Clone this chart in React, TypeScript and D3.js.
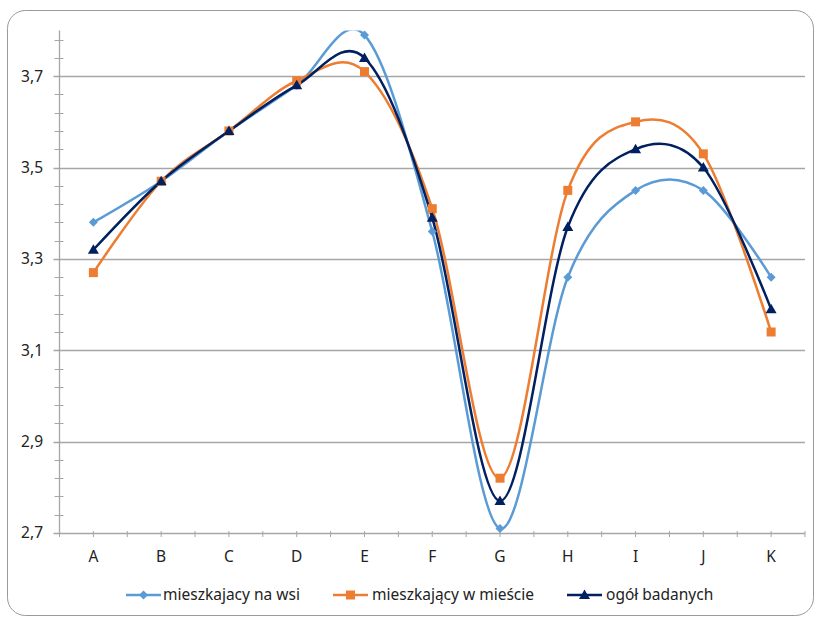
import React from "react";
import * as d3 from "d3";

const categories = ["A", "B", "C", "D", "E", "F", "G", "H", "I", "J", "K"];
const wsi = [3.38, 3.47, 3.58, 3.68, 3.79, 3.36, 2.71, 3.26, 3.45, 3.45, 3.26];
const miasto = [3.27, 3.47, 3.58, 3.69, 3.71, 3.41, 2.82, 3.45, 3.60, 3.53, 3.14];
const ogol = [3.32, 3.47, 3.58, 3.68, 3.74, 3.39, 2.77, 3.37, 3.54, 3.50, 3.19];
const seriesNames = ["mieszkajacy na wsi", "mieszkający w mieście", "ogół badanych"];
const yTickValues = [2.7, 2.9, 3.1, 3.3, 3.5, 3.7];

const W = 817;
const H = 617;
const left = 59.5;
const right = 805;
const top = 30.5;
const bottom = 533;
const FONT = "'Noto Sans', 'Open Sans', sans-serif";
const colors = ["#5B9BD5", "#ED7D31", "#002060"];

export default function App() {
  const x = d3.scaleBand<string>().domain(categories).range([left, right]);
  const y = d3.scaleLinear().domain([2.7, 3.8]).range([bottom, top]);
  const cx = (c: string) => (x(c) as number) + x.bandwidth() / 2;

  const minor = d3.range(0, 28).map((i) => 2.7 + i * 0.04).filter((v) => v <= 3.8 + 1e-9);
  const line = d3
    .line<number>()
    .x((_, i) => cx(categories[i]))
    .y((d) => y(d))
    .curve(d3.curveCardinal.tension(0));

  const all = [wsi, miasto, ogol];

  const marker = (k: number, px: number, py: number, key: string) => {
    const c = colors[k];
    if (k === 0) {
      const s = 4.5;
      return <path key={key} d={`M${px},${py - s}L${px + s},${py}L${px},${py + s}L${px - s},${py}Z`} fill={c} />;
    }
    if (k === 1) {
      return <rect key={key} x={px - 4.5} y={py - 4.5} width={9} height={9} fill={c} />;
    }
    return <path key={key} d={`M${px},${py - 5.5}L${px + 5.5},${py + 4}L${px - 5.5},${py + 4}Z`} fill={c} />;
  };

  const legendItems = [
    { lx: 126, tx: 163 },
    { lx: 333, tx: 372 },
    { lx: 567, tx: 606 },
  ];

  return (
    <svg width={W} height={H} style={{ position: "absolute", left: 0, top: 0, background: "#fff" }}>
      <defs>
        <clipPath id="plot">
          <rect x={left} y={top} width={right - left} height={bottom - top} />
        </clipPath>
      </defs>
      <rect x={7.5} y={10.5} width={806} height={605} rx={18} fill="#fff" stroke="#9a9a9a" strokeWidth={1} />
      {yTickValues.map((v) => (
        <line key={"g" + v} x1={left - 6} x2={right} y1={Math.round(y(v)) + 0.5} y2={Math.round(y(v)) + 0.5} stroke="#a6a6a6" strokeWidth={1.3} />
      ))}
      {minor.map((v, i) => (
        <line key={"m" + i} x1={left - 5} x2={left + 4} y1={Math.round(y(v)) + 0.5} y2={Math.round(y(v)) + 0.5} stroke="#a6a6a6" strokeWidth={1} />
      ))}
      <line x1={left} x2={left} y1={top} y2={bottom} stroke="#a6a6a6" strokeWidth={1.3} />
      {categories.map((c, i) => (
        <g key={"xt" + c}>
          <line x1={x(c) as number} x2={x(c) as number} y1={bottom - 2} y2={bottom + 4} stroke="#a6a6a6" />
          <line x1={cx(c)} x2={cx(c)} y1={bottom - 2} y2={bottom + 4} stroke="#a6a6a6" />
          {i === categories.length - 1 && (
            <line x1={right} x2={right} y1={bottom - 2} y2={bottom + 4} stroke="#a6a6a6" />
          )}
        </g>
      ))}
      {yTickValues.map((v) => (
        <text key={"yl" + v} x={43} y={y(v)} dy="0.35em" textAnchor="end" fontFamily={FONT} fontSize={15.5} fill="#222">
          {v.toFixed(1).replace(".", ",")}
        </text>
      ))}
      {categories.map((c) => (
        <text key={"xl" + c} x={cx(c)} y={562} textAnchor="middle" fontFamily={FONT} fontSize={15.5} fill="#222">
          {c}
        </text>
      ))}
      <g clipPath="url(#plot)">
        {all.map((s, k) => (
          <path key={"l" + k} d={line(s) || ""} fill="none" stroke={colors[k]} strokeWidth={2.5} />
        ))}
      </g>
      {all.map((s, k) => s.map((v, i) => marker(k, cx(categories[i]), y(v), `mk${k}-${i}`)))}
      {seriesNames.map((n, k) => (
        <g key={"lg" + k}>
          <line x1={legendItems[k].lx} x2={legendItems[k].lx + 35} y1={595} y2={595} stroke={colors[k]} strokeWidth={2.5} />
          {marker(k, legendItems[k].lx + 17.5, 595, "lm" + k)}
          <text x={legendItems[k].tx} y={595} dy="0.35em" fontFamily={FONT} fontSize={15.5} fill="#222">
            {n}
          </text>
        </g>
      ))}
    </svg>
  );
}
